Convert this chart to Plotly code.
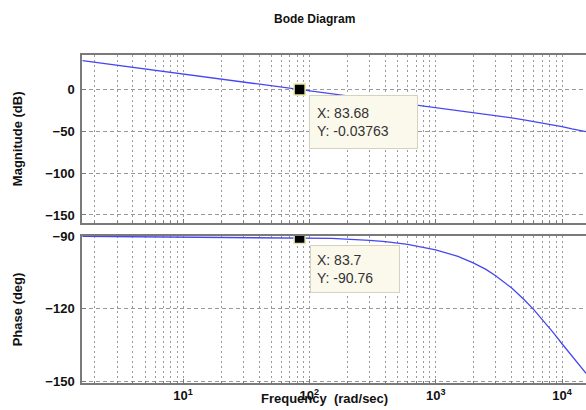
import plotly.graph_objects as go

# ---- data ----
freq = [1.6, 3, 5, 10, 20, 50, 83.68, 150, 300, 400, 600, 800, 1000, 1500, 2000, 2500,
        3000, 4000, 5000, 6000, 7000, 8500, 10000, 12000, 15500]
mag_db = [34.4, 28.9, 24.5, 18.4, 12.4, 4.5, -0.04, -5.1, -11.1, -13.6, -17.1, -19.6, -21.6,
          -25.0, -27.7, -29.7, -31.5, -34.1, -36.5, -38.4, -40.1, -42.4, -44.5, -47.2, -50.5]
phase_deg = [-90.0, -90.1, -90.1, -90.2, -90.3, -90.5, -90.76, -90.9, -91.7, -92.2, -93.4, -94.5,
             -95.6, -98.3, -101.1, -103.7, -106.4, -111.4, -116.1, -120.4, -124.4, -129.7,
             -134.4, -139.6, -146.6]

tip_mag = (83.68, -0.03763)
tip_phase = (83.7, -90.76)

mag_ticks = [0, -50, -100, -150]
phase_ticks = [-90, -120, -150]
decades = [0, 1, 2, 3, 4]

major_vals = [10 ** d for d in decades]
major_text = [f"10<sup>{d}</sup>" for d in decades]
minor_vals = [k * 10 ** d for d in decades for k in range(2, 10)]

W, H = 586, 410
L, R, T, B = 82, 0, 55, 27
plot_h = H - T - B
def py(px):  # pixel y -> paper y
    return (H - B - px) / plot_h
def pxx(px):
    return (px - L) / (W - L - R)

LINE = "#4646f2"
GRIDC = "#9a9a9a"
AXC = "#7a7a7a"
FONT = "Liberation Sans, Arial, sans-serif"

fig = go.Figure()
fig.add_trace(go.Scatter(x=freq, y=mag_db, mode="lines", line=dict(color=LINE, width=1.3),
                         xaxis="x2", yaxis="y2", showlegend=False, hoverinfo="skip"))
fig.add_trace(go.Scatter(x=freq, y=phase_deg, mode="lines", line=dict(color=LINE, width=1.3),
                         xaxis="x", yaxis="y", showlegend=False, hoverinfo="skip"))
# data tip markers
fig.add_trace(go.Scatter(x=[tip_mag[0]], y=[tip_mag[1]], mode="markers", xaxis="x2", yaxis="y2",
                         marker=dict(symbol="square", size=11, color="black",
                                     line=dict(color="#e6e6a8", width=1.5)),
                         showlegend=False, hoverinfo="skip"))
fig.add_trace(go.Scatter(x=[tip_phase[0]], y=[tip_phase[1]], mode="markers", xaxis="x", yaxis="y",
                         marker=dict(symbol="square", size=11, color="black",
                                     line=dict(color="#e6e6a8", width=1.5)),
                         showlegend=False, hoverinfo="skip"))

xcommon = dict(type="log", range=[0.2, 4.19], tickvals=major_vals,
               showgrid=True, gridcolor=GRIDC, griddash="2px,3px", gridwidth=1,
               minor=dict(tickvals=minor_vals, showgrid=True, gridcolor=GRIDC,
                          griddash="2px,3px", gridwidth=1, ticks="inside", ticklen=2,
                          tickcolor=AXC),
               showline=True, linecolor=AXC, linewidth=1.5, mirror=True,
               ticks="inside", ticklen=4, tickcolor=AXC, zeroline=False)
ycommon = dict(showgrid=True, gridcolor=GRIDC, griddash="4px,3px", gridwidth=1,
               showline=True, linecolor=AXC, linewidth=1.5, mirror=False,
               ticks="inside", ticklen=4, tickcolor=AXC, zeroline=False,
               tickfont=dict(family=FONT, size=13, color="#111", weight="bold"),
               ticklabelstandoff=3)
ytitlefont = dict(family=FONT, size=13, color="#111", weight="bold")

fig.update_layout(
    width=W, height=H, margin=dict(l=L, r=R, t=T, b=B),
    paper_bgcolor="white", plot_bgcolor="white",
    xaxis=dict(**xcommon, ticktext=major_text, anchor="y",
               tickfont=dict(family=FONT, size=13, color="#111", weight="bold")),
    xaxis2=dict(**xcommon, showticklabels=False, anchor="y2", matches="x"),
    yaxis=dict(**ycommon, domain=[0, py(236)], range=[-150.6, -89.9], tickvals=phase_ticks,
               title=dict(text="Phase (deg)", font=ytitlefont, standoff=20)),
    yaxis2=dict(**ycommon, domain=[py(222.7), 1], range=[-159.2, 41], tickvals=mag_ticks,
                title=dict(text="Magnitude (dB)", font=ytitlefont, standoff=20)),
)

fig.add_annotation(text="<b>Bode Diagram</b>", xref="paper", yref="paper", x=pxx(314), y=py(19),
                   xanchor="center", yanchor="middle",
                   showarrow=False, font=dict(family=FONT, size=12, color="#111"))
fig.add_annotation(text="<b>Frequency  (rad/sec)</b>", xref="paper", yref="paper", x=pxx(324), y=py(398),
                   xanchor="center", yanchor="middle",
                   showarrow=False, font=dict(family=FONT, size=13, color="#111"))

# data tip boxes
fig.add_annotation(text="X: 83.68<br>Y: -0.03763", xref="paper", yref="paper",
                   x=pxx(309), y=py(95), xanchor="left", yanchor="top", align="left",
                   showarrow=False, bgcolor="#fbf9ec", bordercolor="#d6d2bc", borderwidth=1,
                   borderpad=7, width=93, height=38,
                   font=dict(family=FONT, size=14, color="#333"))
fig.add_annotation(text="X: 83.7<br>Y: -90.76", xref="paper", yref="paper",
                   x=pxx(310), y=py(245), xanchor="left", yanchor="top", align="left",
                   showarrow=False, bgcolor="#fbf9ec", bordercolor="#d6d2bc", borderwidth=1,
                   borderpad=6, width=76, height=34,
                   font=dict(family=FONT, size=14, color="#333"))

fig.write_html("out.html")
